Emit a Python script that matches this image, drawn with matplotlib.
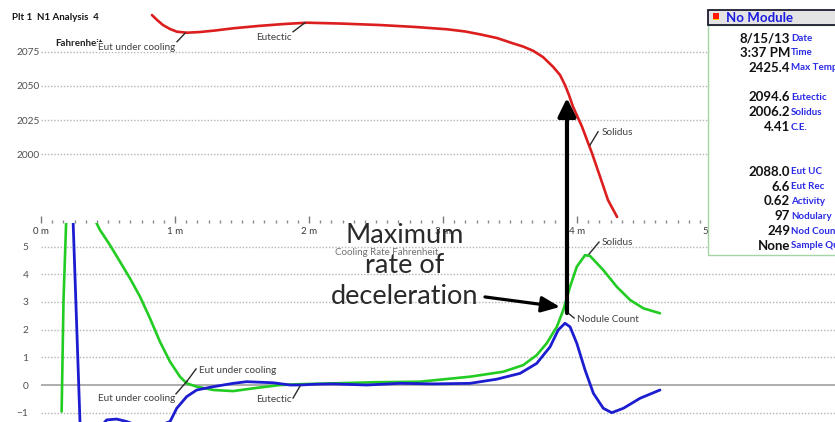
import matplotlib
matplotlib.use("Agg")
import matplotlib.pyplot as plt
from matplotlib.patches import Rectangle
from matplotlib.ticker import MultipleLocator

# ---------------- data ----------------
temp_time = [0.828, 0.866, 0.910, 0.963, 1.015, 1.090, 1.187, 1.299, 1.433, 1.619, 1.806,
             1.985, 2.231, 2.530, 2.791, 3.030, 3.164, 3.276, 3.403, 3.522, 3.597, 3.672,
             3.746, 3.821, 3.873, 3.910, 3.940, 3.970, 4.037, 4.112, 4.172, 4.231, 4.299]
temp_value = [2101.8, 2098.2, 2094.5, 2091.6, 2089.6, 2088.9, 2089.4, 2090.5, 2092.1, 2093.8, 2095.2,
              2096.2, 2095.6, 2094.5, 2093.1, 2091.4, 2089.8, 2087.7, 2085.0, 2081.1, 2078.8, 2075.7,
              2071.1, 2064.0, 2058.0, 2050.7, 2043.3, 2034.8, 2020.2, 2000.7, 1983.6, 1966.6, 1954.2]

green_time = [0.154, 0.168, 0.187, 0.22, 0.28, 0.34, 0.390, 0.440, 0.515, 0.590, 0.664, 0.739,
              0.813, 0.888, 0.963, 1.037, 1.087, 1.162, 1.286, 1.435, 1.584, 1.784, 1.933,
              2.179, 2.500, 2.828, 3.201, 3.450, 3.599, 3.699, 3.774, 3.849, 3.898, 3.948,
              3.998, 4.060, 4.097, 4.196, 4.296, 4.396, 4.495, 4.619]
green_rate = [-0.96, 3.07, 5.78, 8.5, 9.5, 8.0, 6.08, 5.60, 5.05, 4.45, 3.85, 3.19,
              2.41, 1.56, 0.84, 0.30, 0.06, -0.06, -0.18, -0.22, -0.12, 0.0, 0.03,
              0.06, 0.10, 0.12, 0.30, 0.48, 0.72, 1.08, 1.51, 2.10, 2.71, 3.55,
              4.27, 4.69, 4.66, 4.15, 3.55, 3.07, 2.77, 2.59]

blue_time = [0.236, 0.241, 0.291, 0.35, 0.43, 0.490, 0.565, 0.640, 0.80, 0.963, 1.013, 1.087,
             1.162, 1.286, 1.435, 1.535, 1.734, 1.858, 1.933, 2.057, 2.179, 2.431, 2.679,
             2.928, 3.201, 3.401, 3.575, 3.699, 3.799, 3.860, 3.910, 3.948, 3.998, 4.060,
             4.122, 4.196, 4.259, 4.346, 4.470, 4.619]
blue_rate = [6.5, 5.71, -1.34, -2.0, -1.6, -1.26, -1.23, -1.32, -1.6, -1.32, -0.84, -0.42,
             -0.18, -0.06, 0.06, 0.12, 0.08, 0.0, 0.0, 0.03, 0.04, 0.0, 0.06,
             0.04, 0.06, 0.21, 0.42, 0.78, 1.38, 1.99, 2.23, 2.10, 1.51, 0.54,
             -0.30, -0.84, -1.00, -0.84, -0.48, -0.18]

temp_ticks = [2000, 2025, 2050, 2075]
rate_ticks = [-1, 0, 1, 2, 3, 4, 5]
minute_ticks = [0, 1, 2, 3, 4, 5]
minute_labels = ["0 m", "1 m", "2 m", "3 m", "4 m", "5 m"]

info_values = ["8/15/13", "3:37 PM", "2425.4", "2094.6", "2006.2", "4.41",
               "2088.0", "6.6", "0.62", "97", "249", "None"]
info_labels = ["Date", "Time", "Max Temp", "Eutectic", "Solidus", "C.E.",
               "Eut UC", "Eut Rec", "Activity", "Nodulary", "Nod Count", "Sample Quality"]
info_rows = [0, 1, 2, 4, 5, 6, 9, 10, 11, 12, 13, 14]

# ---------------- figure ----------------
W, H = 835, 422
FONT = ["Lato", "DejaVu Sans"]
plt.rcParams["font.family"] = FONT

fig = plt.figure(figsize=(W / 100, H / 100), dpi=100)
fig.patch.set_facecolor("white")


def px_rect(x0, y0, x1, y1):
    return [x0 / W, 1 - y1 / H, (x1 - x0) / W, (y1 - y0) / H]


ax_top = fig.add_axes(px_rect(41, 0, 835, 223))
ax_bot = fig.add_axes(px_rect(41, 223, 835, 422))
for ax in (ax_top, ax_bot):
    ax.set_facecolor("none")
    for s in ax.spines.values():
        s.set_visible(False)
    ax.set_xlim(0, 5.925)
ax_top.set_zorder(1)
ax_bot.set_zorder(2)

GRID = dict(linestyle=(0, (1, 1.3)), color="#b4b4b4", lw=1.0)
LABEL_C = "#404040"
LINE = dict(solid_capstyle="round", solid_joinstyle="round", zorder=3)

# ---- top: temperature ----
ax_top.set_ylim(1949.8, 2112.8)
ax_top.set_yticks(temp_ticks)
ax_top.tick_params(axis="y", length=0, pad=1, labelsize=7.3, labelcolor="#505050")
for v in temp_ticks:
    ax_top.axhline(v, zorder=0, **GRID)
ax_top.set_xticks(minute_ticks)
ax_top.set_xticklabels(minute_labels)
ax_top.xaxis.set_minor_locator(MultipleLocator(1 / 12))
ax_top.tick_params(axis="x", which="major", direction="in", length=5, width=1,
                   color="#7a7a7a", pad=3, labelsize=7, labelcolor="#3a3a3a")
ax_top.tick_params(axis="x", which="minor", direction="in", length=2, width=1,
                   color="#8a8a8a")
ax_top.plot(temp_time, temp_value, color="#dc1e1e", lw=1.9, **LINE)

ax_top.text((55 - 41) / 794, 1 - 43 / 223, "Fahrenheit", transform=ax_top.transAxes,
            fontsize=7, fontweight="bold", color="#202020", va="center", zorder=1)

LEAD = dict(color="#2a2a2a", lw=1.0, zorder=4)
TXT = dict(fontsize=7.2, color=LABEL_C, va="center")

ax_top.plot([1.015, 1.075], [2082.3, 2088.5], **LEAD)
ax_top.text(1.0, 2078.4, "Eut under cooling", ha="right", zorder=6,
            bbox=dict(facecolor="white", edgecolor="none", pad=0.6), **TXT)
ax_top.plot([1.881, 1.970], [2089.6, 2096.2], **LEAD)
ax_top.text(1.873, 2085.7, "Eutectic", ha="right", **TXT)
ax_top.plot([4.097, 4.157], [2006.8, 2016.5], **LEAD)
ax_top.text(4.187, 2015.6, "Solidus", ha="left", **TXT)

# ---- bottom: cooling rate ----
ax_bot.set_ylim(-1.336, 5.85)
ax_bot.set_yticks(rate_ticks)
ax_bot.set_xticks([])
ax_bot.tick_params(axis="y", length=0, pad=9, labelsize=7.3, labelcolor="#505050")
for v in rate_ticks:
    if v == 0:
        ax_bot.axhline(v, color="#a0a0a0", lw=1.2, zorder=0)
    else:
        ax_bot.axhline(v, zorder=0, **GRID)

ax_bot.plot(green_time, green_rate, color="#22cc22", lw=1.9, **LINE)
ax_bot.plot(blue_time, blue_rate, color="#1c1cd0", lw=2.0, **LINE)

ax_bot.text(2.58, 4.77, "Cooling Rate Fahrenheit", ha="center", fontsize=7,
            color="#707070", va="center")

ax_bot.plot([1.007, 1.090], [-0.32, 0.14], **LEAD)
ax_bot.text(1.0, -0.47, "Eut under cooling", ha="right", **TXT)
ax_bot.plot([1.090, 1.157], [0.14, 0.58], **LEAD)
ax_bot.text(1.179, 0.51, "Eut under cooling", ha="left", **TXT)
ax_bot.plot([1.881, 1.933], [-0.47, -0.04], **LEAD)
ax_bot.text(1.873, -0.51, "Eutectic", ha="right", **TXT)
ax_bot.plot([4.090, 4.164], [4.73, 5.16], **LEAD)
ax_bot.text(4.187, 5.16, "Solidus", ha="left", **TXT)
ax_bot.plot([3.933, 3.978], [2.6, 2.42], **LEAD)
ax_bot.text(4.0, 2.35, "Nodule Count", ha="left", **TXT)

ax_bot.text(2.716, 4.30, "Maximum\nrate of\ndeceleration", ha="center", va="center",
            fontsize=19.5, color="#2a2a2a", linespacing=1.27, zorder=5, clip_on=False)

# arrows
ax_bot.annotate("", xy=(3.925, 2041.2), xycoords=ax_top.transData,
                xytext=(3.925, 2.6), textcoords="data", annotation_clip=False,
                arrowprops=dict(arrowstyle="-|>,head_length=0.55,head_width=0.27",
                                mutation_scale=20, lw=3.0, color="black",
                                shrinkA=0, shrinkB=0), zorder=6)
ax_bot.annotate("", xy=(3.873, 2.82), xytext=(3.313, 3.18), annotation_clip=False,
                arrowprops=dict(arrowstyle="-|>,head_length=0.7,head_width=0.3",
                                mutation_scale=16, lw=2.3, color="black",
                                shrinkA=0, shrinkB=0), zorder=6)

# ---- titles ----
fig.text(12 / W, 1 - 18 / H, "Plt 1  N1 Analysis  4", fontsize=7, fontweight="bold",
         color="#151515", va="center")

# ---- info box ----
ax_box = fig.add_axes(px_rect(707, 8, 850, 256))
ax_box.set_zorder(10)
ax_box.set_xlim(0, 143)
ax_box.set_ylim(248, 0)
ax_box.axis("off")
ax_box.add_patch(Rectangle((1, 17), 160, 230, facecolor="white", edgecolor="#a4d6a4",
                           lw=1.0, clip_on=False))
ax_box.add_patch(Rectangle((1, 2), 160, 15, facecolor="#e4e4e4", edgecolor="#1c1c30",
                           lw=1.3, clip_on=False))
ax_box.add_patch(Rectangle((6, 4.5), 6, 7, facecolor="#ff1a00", edgecolor="none"))
ax_box.add_patch(Rectangle((6, 10.5), 6, 1.5, facecolor="#ffcc00", edgecolor="none"))
ax_box.text(19, 9.5, "No Module", fontsize=9.5, fontweight="bold", color="#1a1ae0",
            va="center", ha="left", clip_on=False)
for r, val, lab in zip(info_rows, info_values, info_labels):
    y = 30 + r * 14.85
    ax_box.text(83, y, val, ha="right", va="center", fontsize=9.5, fontweight="bold",
                color="#111111")
    ax_box.text(84, y, lab, ha="left", va="center", fontsize=7, fontweight="bold",
                color="#2a2ae6", clip_on=False)

fig.savefig("out.png", dpi=100)
